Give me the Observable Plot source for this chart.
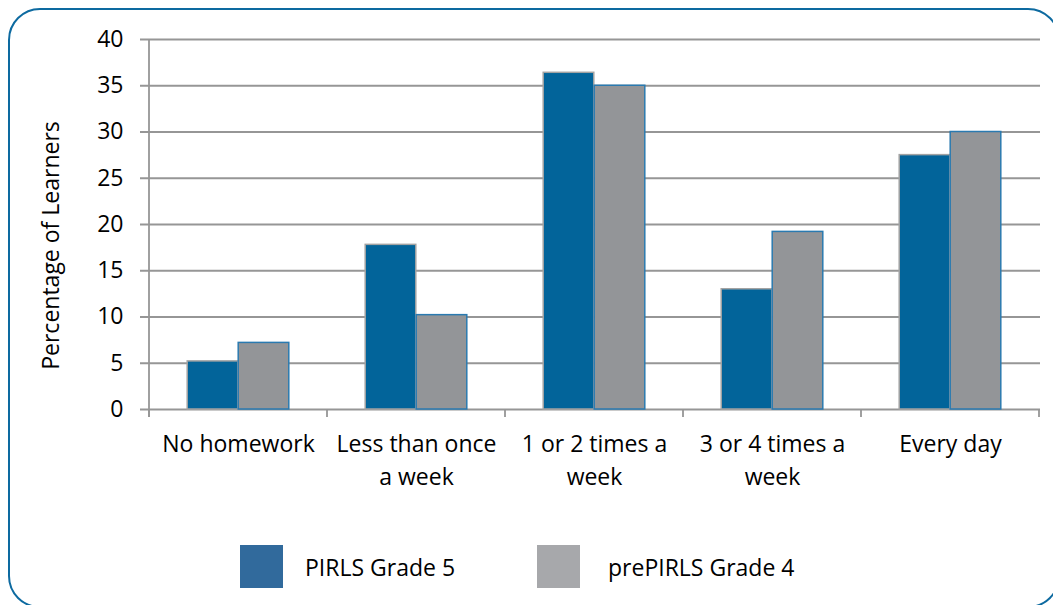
<!DOCTYPE html>
<html><head><meta charset="utf-8">
<script src="https://cdn.jsdelivr.net/npm/d3@7"></script>
<script src="https://cdn.jsdelivr.net/npm/@observablehq/plot@0.6"></script>
<style>
html,body{margin:0;padding:0;background:#fff;overflow:hidden;width:1053px;height:605px}
#wrap{position:relative;width:1053px;height:605px;font-family:"Open Sans",sans-serif;overflow:hidden}
#frame{position:absolute;left:8px;top:8px;width:1052px;height:600px;border:2.5px solid #0d6aa0;border-radius:32px;box-sizing:border-box;pointer-events:none}
#chart{position:absolute;left:0;top:0}
.sw{position:absolute;top:545px;width:43px;height:43px}
.lt{position:absolute;top:551px;font-size:23px;line-height:32px;color:#000;white-space:nowrap}
</style></head>
<body>
<div id="wrap">
  <div id="chart"></div>
  <div id="legend"></div>
  <div id="frame"></div>
</div>
<script>
const categories = ["No homework", "Less than once\na week", "1 or 2 times a\nweek", "3 or 4 times a\nweek", "Every day"];
const seriesNames = ["PIRLS Grade 5", "prePIRLS Grade 4"];
const pirls5 = [5.2, 17.8, 36.4, 13.0, 27.5];
const prepirls4 = [7.2, 10.2, 35.0, 19.2, 30.0];
const yTicks = [0, 5, 10, 15, 20, 25, 30, 35, 40];
const yLabel = "Percentage of Learners";

const barColors = ["#02649a", "#939598"];
const barStrokes = ["#a3a3a3", "#2a7ab0"];
const legendColors = ["#316a9c", "#a7a8ab"];
const gridColor = "#969696";

const rowsA = categories.map((c, i) => ({cat: c, value: pirls5[i]}));
const rowsB = categories.map((c, i) => ({cat: c, value: prepirls4[i]}));

const boundaryMark = (index, scales, values, dims) => {
  const g = d3.create("svg:g");
  const x = scales.x, y = scales.y;
  const bw = x.bandwidth();
  const edges = categories.map(c => x(c)).concat([x(categories[categories.length - 1]) + bw]);
  const y0 = y(0);
  g.selectAll("line.b").data(edges).join("line")
    .attr("x1", d => d).attr("x2", d => d)
    .attr("y1", y0).attr("y2", y0 + 8)
    .attr("stroke", gridColor).attr("stroke-width", 1.8);
  g.append("line")
    .attr("x1", edges[0]).attr("x2", edges[0])
    .attr("y1", y(40)).attr("y2", y0 + 8)
    .attr("stroke", gridColor).attr("stroke-width", 1.8);
  return g.node();
};

const chart = Plot.plot({
  width: 1053, height: 530,
  marginLeft: 148, marginRight: 13, marginTop: 39, marginBottom: 121,
  style: {fontFamily: "'Open Sans', sans-serif", fontSize: "23px", color: "#000", background: "transparent", overflow: "visible"},
  x: {domain: categories, padding: 0, label: null},
  y: {domain: [0, 40], label: null},
  marks: [
    Plot.ruleY(yTicks, {stroke: gridColor, strokeWidth: 1.8, insetLeft: -8}),
    Plot.barY(rowsA, {x: "cat", y: "value", fill: barColors[0], stroke: barStrokes[0], strokeWidth: 1.5, insetLeft: 38.2, insetRight: 89.2}),
    Plot.barY(rowsB, {x: "cat", y: "value", fill: barColors[1], stroke: barStrokes[1], strokeWidth: 1.5, insetLeft: 89.2, insetRight: 38.2}),
    boundaryMark,
    Plot.axisY({ticks: yTicks, tickSize: 0, tickPadding: 25, tickFormat: d => String(d), fontSize: 23, fill: "#000", label: null}),
    Plot.axisX({tickSize: 0, tickPadding: 19, lineHeight: 1.43, fontSize: 23, fill: "#000", label: null}),
    Plot.text([yLabel], {frameAnchor: "left", rotate: -90, dx: -97, dy: 21, fontSize: 23, fill: "#000", textAnchor: "middle", lineAnchor: "middle"})
  ]
});
document.getElementById("chart").appendChild(chart);

const legend = document.getElementById("legend");
const swX = [240, 537];
const txX = [305, 608];
seriesNames.forEach((name, i) => {
  const s = document.createElement("div");
  s.className = "sw"; s.style.left = swX[i] + "px"; s.style.background = legendColors[i];
  legend.appendChild(s);
  const t = document.createElement("div");
  t.className = "lt"; t.style.left = txX[i] + "px"; t.textContent = name;
  legend.appendChild(t);
});
</script>
</body></html>
